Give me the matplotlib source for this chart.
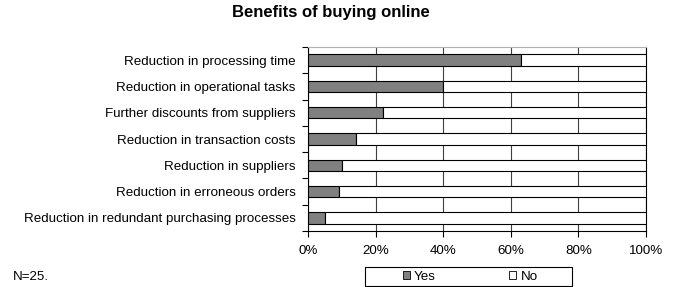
import numpy as np
import matplotlib.pyplot as plt
from matplotlib.patches import Patch, Rectangle

plt.rcParams["font.family"] = ["Liberation Sans", "DejaVu Sans"]

categories = [
    "Reduction in processing time",
    "Reduction in operational tasks",
    "Further discounts from suppliers",
    "Reduction in transaction costs",
    "Reduction in suppliers",
    "Reduction in erroneous orders",
    "Reduction in redundant purchasing processes",
]
yes_pct = [63, 40, 22, 14, 10, 9, 5]
no_pct = [100 - v for v in yes_pct]
tick_labels = ["0%", "20%", "40%", "60%", "80%", "100%"]

W, H = 680, 287
fs = 9.6

fig = plt.figure(figsize=(W / 100, H / 100), dpi=100)
# plot area in pixels: x 308..646, y 47..231
ax = fig.add_axes([308.3 / W, 1 - 231 / H, 337.7 / W, 184 / H])

y = np.arange(len(categories))[::-1]
h = 0.44
ax.barh(y, yes_pct, height=h, color="#808080", edgecolor="black", linewidth=0.8, zorder=3)
ax.barh(y, no_pct, left=yes_pct, height=h, color="white", edgecolor="black", linewidth=0.8, zorder=3)

ax.set_xlim(0, 100)
ax.set_ylim(-0.5, len(categories) - 0.5)
ax.set_xticks(np.arange(0, 101, 20))
ax.set_xticklabels(tick_labels, fontsize=fs)
ax.set_yticks(y)
ax.set_yticklabels(categories, fontsize=fs)
ax.tick_params(axis="y", length=0, pad=9)
ax.set_yticks(np.arange(-0.5, len(categories), 1), minor=True)
ax.tick_params(axis="y", which="minor", length=4, width=0.8, direction="out")
ax.tick_params(axis="x", length=4, width=0.8, direction="out", pad=6)

ax.xaxis.grid(True, color="#404040", linewidth=0.8, zorder=0)
ax.set_axisbelow(True)
ax.spines["top"].set_color("#b0b0b0")
ax.spines["top"].set_linewidth(0.8)
ax.spines["right"].set_color("black")
ax.spines["right"].set_linewidth(0.8)
ax.spines["left"].set_linewidth(0.8)
ax.spines["bottom"].set_linewidth(0.8)

fig.text(331 / W, 1 - 12.5 / H, "Benefits of buying online", ha="center", va="center",
         fontsize=12, fontweight="bold")
fig.text(13 / W, 1 - 277 / H, "N=25.", ha="left", va="center", fontsize=fs)

# legend box
fig.patches.append(Rectangle((365 / W, 1 - 286 / H), 207 / W, 19 / H, transform=fig.transFigure,
                             facecolor="white", edgecolor="black", linewidth=0.8))
handles = [
    Patch(facecolor="#808080", edgecolor="black", linewidth=0.6, label="Yes"),
    Patch(facecolor="white", edgecolor="black", linewidth=0.6, label="No"),
]
fig.legend(handles=handles, loc="center", bbox_to_anchor=(470 / W, 1 - 276.5 / H),
           ncol=2, fontsize=fs, frameon=False,
           handlelength=0.55, handleheight=0.55, handletextpad=0.3, columnspacing=5.5,
           borderpad=0)

fig.savefig("out.png", dpi=100)
